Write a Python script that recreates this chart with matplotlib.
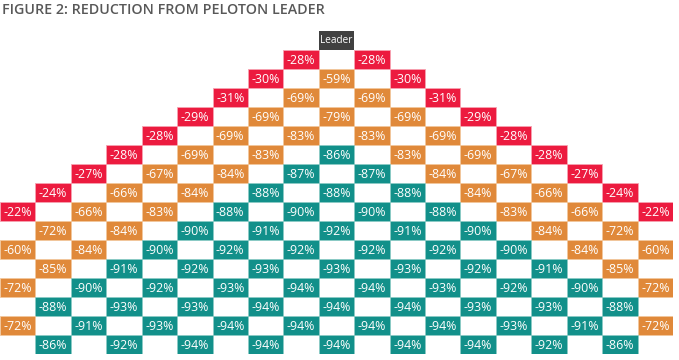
import matplotlib.pyplot as plt
from matplotlib.patches import Rectangle

# reduction from the leader, row by row (row 0 is the leader), left to right
title = "FIGURE 2: REDUCTION FROM PELOTON LEADER"
n_cols = 19
rows = [
    [-28, -28],
    [-30, -59, -30],
    [-31, -69, -69, -31],
    [-29, -69, -79, -69, -29],
    [-28, -69, -83, -83, -69, -28],
    [-28, -69, -83, -86, -83, -69, -28],
    [-27, -67, -84, -87, -87, -84, -67, -27],
    [-24, -66, -84, -88, -88, -88, -84, -66, -24],
    [-22, -66, -83, -88, -90, -90, -88, -83, -66, -22],
    [-72, -84, -90, -91, -92, -91, -90, -84, -72],
    [-60, -84, -90, -92, -92, -92, -92, -90, -84, -60],
    [-85, -91, -92, -93, -93, -93, -92, -91, -85],
    [-72, -90, -92, -93, -94, -94, -93, -92, -90, -72],
    [-88, -93, -93, -94, -94, -94, -93, -93, -88],
    [-72, -91, -93, -94, -94, -94, -94, -93, -91, -72],
    [-86, -92, -94, -94, -94, -94, -94, -92, -86],
]

red, orange, teal, dark = "#ec1b3f", "#e0893a", "#12908a", "#414141"
red_edge, orange_edge, teal_edge = "#f7a3b2", "#f2c79d", "#8ccbc6"


def cell_colors(v):
    if v <= -86:
        return teal, teal_edge
    if v <= -50:
        return orange, orange_edge
    return red, red_edge


fig = plt.figure(figsize=(6.79, 3.60), dpi=100)
fig.text(2 / 679, 1 - 3 / 360, title, ha="left", va="top", fontsize=10.3,
         fontweight="semibold", family="Open Sans", color="#585858")

ax = fig.add_axes([0, 6 / 360, 673 / 679, 323 / 360])
ax.set_xlim(0, n_cols)
ax.set_ylim(len(rows) + 1, 0)
ax.axis("off")

center = n_cols // 2
# leader cell
ax.add_patch(Rectangle((center, 0), 1, 1, facecolor=dark, edgecolor="none"))
ax.text(center + 0.5, 0.52, "Leader", ha="center", va="center", color="white",
        fontsize=7.2, family="Open Sans")

for r, vals in enumerate(rows, start=1):
    # cells alternate like a checkerboard, widening until they fill the row
    cols = [c for c in range(n_cols) if (c + r) % 2 == 1 and abs(c - center) <= r]
    for c, v in zip(cols, vals):
        fc, ec = cell_colors(v)
        ax.add_patch(Rectangle((c, r), 1, 1, facecolor=fc, edgecolor=ec, linewidth=0.6))
        ax.text(c + 0.5, r + 0.54, f"{v}%", ha="center", va="center", color="white",
                fontsize=8.9, family="Open Sans")

fig.savefig("out.png", dpi=100)
